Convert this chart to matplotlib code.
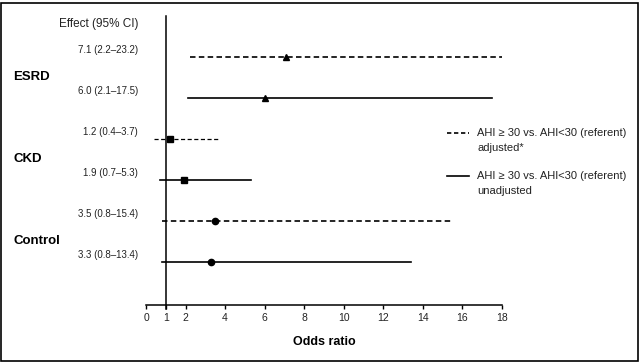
import matplotlib
matplotlib.use("Agg")
import matplotlib.pyplot as plt
from matplotlib.patches import Rectangle

plt.rcParams["font.family"] = ["Liberation Sans", "DejaVu Sans"]

# rows top to bottom
groups = ["ESRD", "CKD", "Control"]
estimates = [7.1, 6.0, 1.2, 1.9, 3.5, 3.3]
ci_low = [2.2, 2.1, 0.4, 0.7, 0.8, 0.8]
ci_high = [23.2, 17.5, 3.7, 5.3, 15.4, 13.4]
adjusted = [True, False, True, False, True, False]
markers = ["^", "^", "s", "s", "o", "o"]
xticks = [0, 1, 2, 4, 6, 8, 10, 12, 14, 16, 18]
legend_labels = ["AHI \u2265 30 vs. AHI<30 (referent)\nadjusted*",
                 "AHI \u2265 30 vs. AHI<30 (referent)\nunadjusted"]

W, H = 640, 362
fig = plt.figure(figsize=(W / 100, H / 100), dpi=100)
ax = fig.add_axes([146 / W, (H - 305) / H, (502 - 146) / W, (305 - 16) / H])
ax.set_xlim(0, 18)
ax.set_ylim(-0.05, 7.0)

n = len(estimates)
ys = [n - i for i in range(n)]
for i in range(n):
    y = ys[i]
    ls = (0, (3.3, 2.0)) if adjusted[i] else "-"
    lw = 0.9 if i == 2 else 1.2
    ax.plot([ci_low[i], ci_high[i]], [y, y], color="black", lw=lw, ls=ls)
    ms = 4.0 if markers[i] == "s" else 4.5
    ax.plot(estimates[i], y, marker=markers[i], color="black", ms=ms, zorder=3)
    label = f"{estimates[i]:.1f} ({ci_low[i]:.1f}\u2013{ci_high[i]:.1f})"
    ax.text(-0.4, y + 0.05, label, ha="right", va="bottom", fontsize=7,
            color="#222222", clip_on=False)

# reference line at OR = 1
ax.plot([1, 1], [-0.15, 7.0], color="black", lw=1.1, clip_on=False)

for s in ["top", "right", "left"]:
    ax.spines[s].set_visible(False)
ax.spines["bottom"].set_linewidth(1.1)
ax.set_yticks([])
ax.set_xticks(xticks)
ax.set_xticklabels([str(t) for t in xticks], fontsize=7.5, color="#222222")
ax.tick_params(axis="x", length=3, width=1, pad=3)
ax.set_xlabel("Odds ratio", fontsize=9, fontweight="bold", labelpad=9)

ax.text(-0.4, 7.0 - 0.2, "Effect (95% CI)", ha="right", va="center",
        fontsize=8.5, color="#222222", clip_on=False)

# group labels
group_y = [(ys[0] + ys[1]) / 2, (ys[2] + ys[3]) / 2, (ys[4] + ys[5]) / 2]
for g, gy in zip(groups, group_y):
    py = ax.transData.transform((0, gy))[1] / H
    fig.text(13 / W, py, g, fontsize=9.5, fontweight="bold", ha="left",
             va="center")

# legend drawn by hand
leg_y = [133, 176]
for lbl, ly, dashed in zip(legend_labels, leg_y, [True, False]):
    yy = (H - ly) / H
    fig.add_artist(plt.Line2D([447 / W, 469 / W], [yy, yy], color="black",
                              lw=1.2, ls=(0, (2.6, 1.6)) if dashed else "-"))
    fig.text(477 / W, yy + 4.5 / H, lbl, fontsize=8, color="#222222",
             ha="left", va="top", linespacing=1.6)

fig.add_artist(Rectangle((0.5 / W, 1.5 / H), (W - 2.5) / W, (H - 4) / H,
                         transform=fig.transFigure, fill=False,
                         edgecolor="black", lw=1.2))

fig.savefig("out.png", dpi=100)
